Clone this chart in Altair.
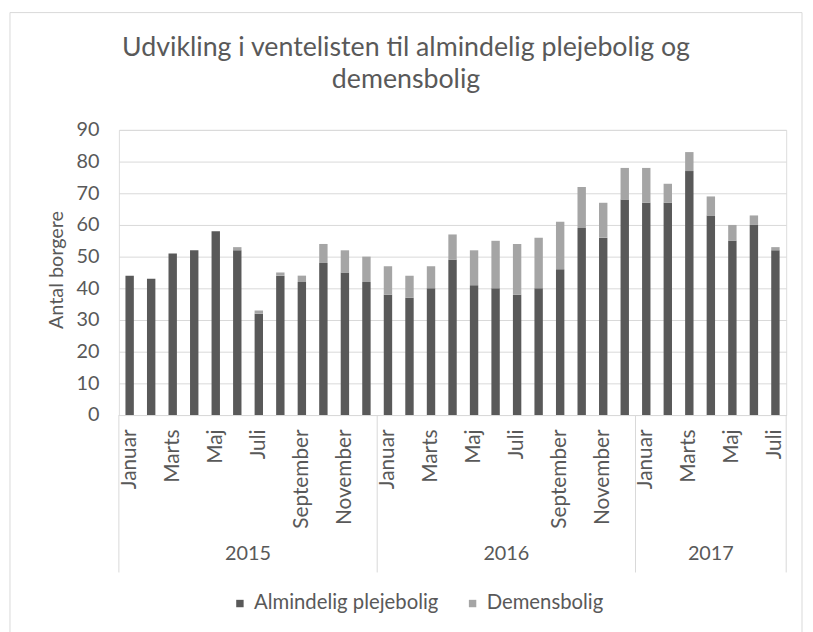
import json
import altair as alt
import pandas as pd

# ---------------- data ----------------
years = [2015, 2016, 2017]
months_per_year = [12, 12, 7]
month_names = ["Januar", "Februar", "Marts", "April", "Maj", "Juni", "Juli",
               "August", "September", "Oktober", "November", "December"]
tick_labels = ["Januar", "", "Marts", "", "Maj", "", "Juli", "", "September", "", "November", "",
               "Januar", "", "Marts", "", "Maj", "", "Juli", "", "September", "", "November", "",
               "Januar", "", "Marts", "", "Maj", "", "Juli"]
almindelig = [44, 43, 51, 52, 58, 52, 32, 44, 42, 48, 45, 42,
              38, 37, 40, 49, 41, 40, 38, 40, 46, 59, 56, 68,
              67, 67, 77, 63, 55, 60, 52]
demens = [0, 0, 0, 0, 0, 1, 1, 1, 2, 6, 7, 8,
          9, 7, 7, 8, 11, 15, 16, 16, 15, 13, 11, 10,
          11, 6, 6, 6, 5, 3, 1]
series = ["Almindelig plejebolig", "Demensbolig"]
colors = ["#595959", "#a5a5a5"]
title_lines = ["Udvikling i ventelisten til almindelig plejebolig og", "demensbolig"]
y_title = "Antal borgere"

# ---------------- tables ----------------
rows = []
idx = 0
for yr, n in zip(years, months_per_year):
    for m in range(n):
        rows.append({"idx": idx, "year": yr, "month": month_names[m],
                     "series": series[0], "order": 0, "value": almindelig[idx]})
        rows.append({"idx": idx, "year": yr, "month": month_names[m],
                     "series": series[1], "order": 1, "value": demens[idx]})
        idx += 1
df = pd.DataFrame(rows)
total = sum(months_per_year)

bounds = [0]
for n in months_per_year:
    bounds.append(bounds[-1] + n)
df_sep = pd.DataFrame({"pos": bounds})
df_year = pd.DataFrame({"year": [str(y) for y in years],
                        "mid": [bounds[i] + months_per_year[i] / 2 for i in range(len(years))]})
df_title = pd.DataFrame({"t": ["\n".join(title_lines)]})

FONT = "Lato"
GREY = "#595959"
GRID = "#d9d9d9"

bars = alt.Chart(df).mark_bar().encode(
    x=alt.X("idx:O",
            scale=alt.Scale(paddingInner=0.61, paddingOuter=0.305),
            axis=alt.Axis(title=None, labelExpr=f"{json.dumps(tick_labels)}[datum.value]",
                          labelAngle=-90, labelAlign="right", labelBaseline="middle",
                          labelPadding=14, ticks=False, domain=True, domainColor=GRID,
                          labelFontSize=21, labelColor=GREY, labelFont=FONT,
                          labelOverlap=False, labelBound=False, labelLimit=0, grid=False)),
    y=alt.Y("value:Q", stack="zero",
            scale=alt.Scale(domain=[0, 90], nice=False),
            axis=alt.Axis(values=list(range(0, 91, 10)), grid=True, gridColor=GRID,
                          domain=False, ticks=False, labelPadding=20,
                          labelFontSize=20, labelColor=GREY, labelFont=FONT,
                          title=y_title, titleFont=FONT, titleFontSize=20,
                          titleFontWeight="normal", titleColor=GREY,
                          titleX=-63, titleY=141, titleAlign="center",
                          titleBaseline="middle", titleAngle=270)),
    color=alt.Color("series:N", scale=alt.Scale(domain=series, range=colors),
                    legend=alt.Legend(orient="none", legendX=112, legendY=468,
                                      direction="horizontal", title=None,
                                      symbolType="square", symbolSize=56,
                                      symbolStrokeWidth=0, labelLimit=0,
                                      labelFontSize=20.5, labelColor=GREY, labelFont=FONT,
                                      columnPadding=24, labelOffset=4)),
    order=alt.Order("order:Q"),
)

seps = alt.Chart(df_sep).mark_rule(color=GRID, strokeWidth=1).encode(
    x=alt.X("pos:Q", scale=alt.Scale(domain=[0, total], nice=False, zero=False), axis=None),
    y=alt.value(288), y2=alt.value(447),
)

year_text = alt.Chart(df_year).mark_text(font=FONT, fontSize=20, color=GREY,
                                         baseline="middle", align="center").encode(
    x=alt.X("mid:Q", scale=alt.Scale(domain=[0, total], nice=False, zero=False), axis=None),
    y=alt.value(428),
    text="year:N",
)

title_text = alt.Chart(df_title).mark_text(font=FONT, fontSize=27, color=GREY,
                                           align="center", baseline="alphabetic",
                                           lineBreak="\n", lineHeight=33).encode(
    x=alt.value(290), y=alt.value(-75), text="t:N",
)

border = alt.Chart(pd.DataFrame({"k": [0]})).mark_rect(
    fillOpacity=0, stroke=GRID, strokeWidth=1).encode(
    x=alt.value(-110), x2=alt.value(690), y=alt.value(-118.5), y2=alt.value(530),
)

chart = alt.layer(border, title_text, bars, seps, year_text).resolve_scale(
    x="independent"
).properties(
    width=674, height=288,
    autosize=alt.AutoSizeParams(type="none"),
    padding={"left": 112, "top": 120, "right": 19, "bottom": 216},
).configure_view(stroke=None).configure(background="white")

chart.save("out.html", embed_options={"renderer": "svg", "actions": False})
